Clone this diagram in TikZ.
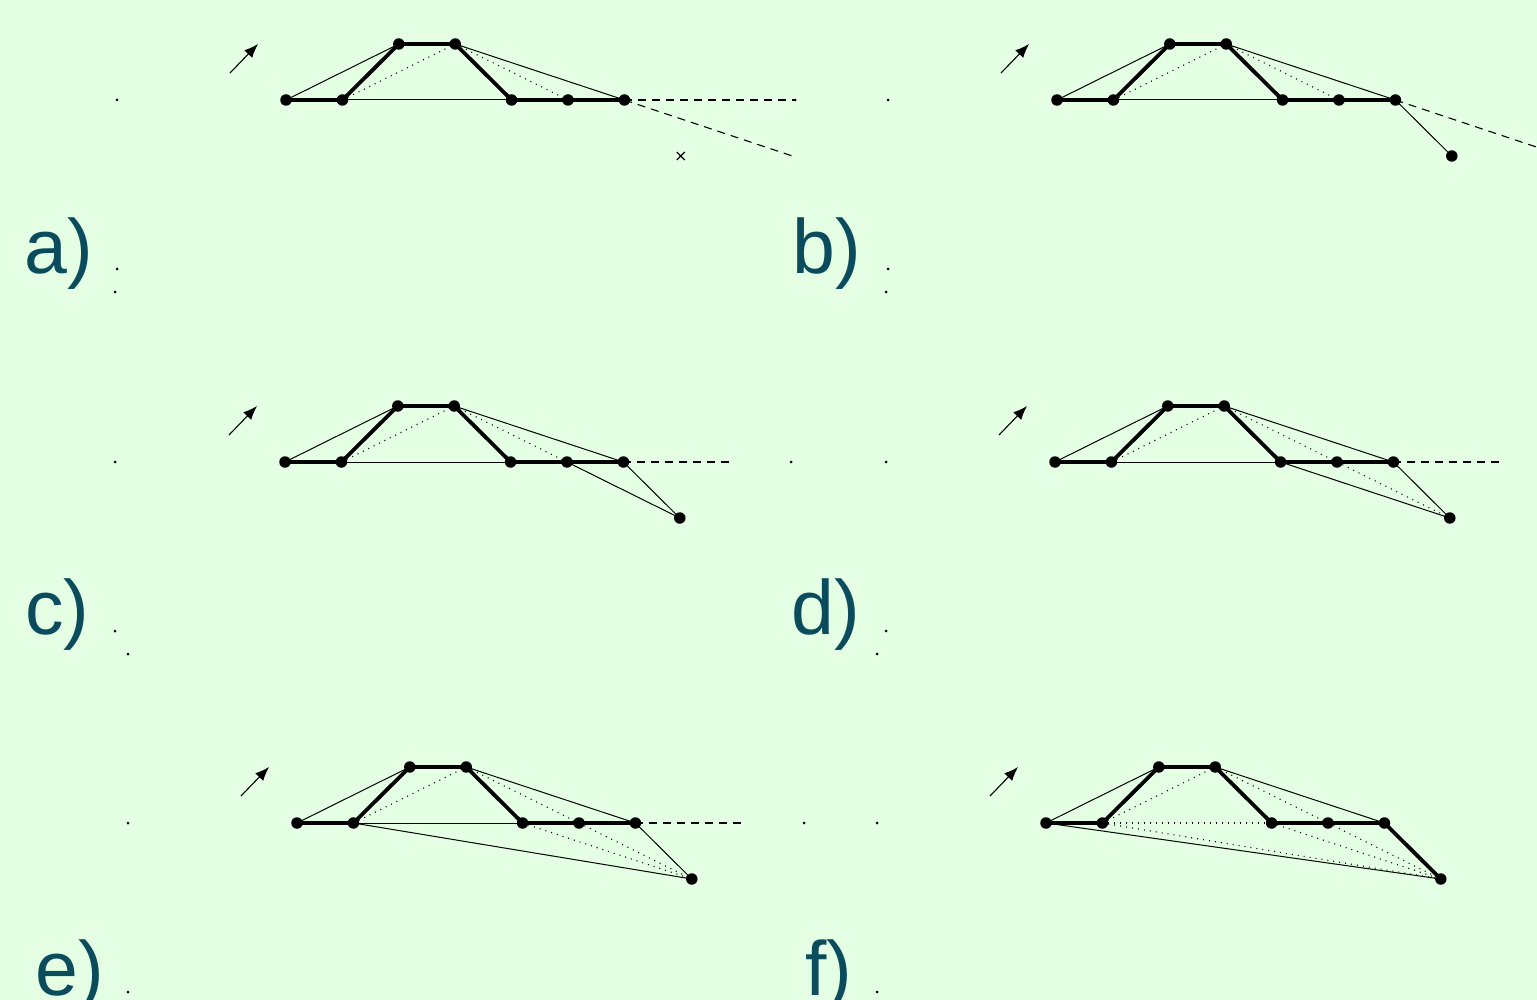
\documentclass[tikz,border=0pt]{standalone}
\usepackage{fontspec}
\setmainfont{Liberation Sans}
\usetikzlibrary{arrows.meta}
\definecolor{bg}{RGB}{229,255,229}
\definecolor{lab}{RGB}{10,75,92}
\tikzset{
 thickseg/.style={line width=3.8pt, line cap=round, line join=round},
 thinseg/.style={line width=1pt},
 dotseg/.style={line width=1.1pt, dash pattern=on 1pt off 5pt},
 dashseg/.style={line width=1.1pt, dash pattern=on 8pt off 6pt},
 vtx/.style={circle, fill=black, inner sep=0pt, minimum size=11.5pt},
 tinydot/.style={circle, fill=black, inner sep=0pt, minimum size=3pt},
 lbl/.style={anchor=base west, inner sep=0pt, text=lab, font=\fontsize{77}{92}\selectfont},
 dirarrow/.style={line width=1.1pt, -{Latex[length=14pt,width=11pt]}},
}
\newcommand{\mkpanel}[3]{%
 \begin{scope}[shift={(#2,#3)}]
 \coordinate (#1-1) at (0,0);
 \coordinate (#1-2) at (56.4,0);
 \coordinate (#1-3) at (112.8,-56);
 \coordinate (#1-4) at (169.2,-56);
 \coordinate (#1-5) at (225.6,0);
 \coordinate (#1-6) at (282,0);
 \coordinate (#1-7) at (338.4,0);
 \coordinate (#1-Q) at (394.8,56);
 \coordinate (#1-at) at (-56,-27);
 \coordinate (#1-ah) at (-28,-56);
 \end{scope}}
\newcommand{\thickpath}[1]{\draw[thickseg] (#1-1) -- (#1-2) -- (#1-3) -- (#1-4) -- (#1-5) -- (#1-6) -- (#1-7);}
\newcommand{\vertices}[1]{\foreach \k in {1,...,7} {\node[vtx] (#1-v\k) at (#1-\k) {};}}
\begin{document}
\begin{tikzpicture}[x=1pt,y=-1pt]
\fill[bg] (0,0) rectangle (1537,1000);
\useasboundingbox (0,0) rectangle (1537,1000);
\clip (0,0) rectangle (1537,1000);

% ---------------- panel a
\mkpanel{a}{286}{100}
\coordinate (a-e1) at (795,100);
\coordinate (a-e2) at (793.6,156.4);
\draw[thinseg] (a-1) -- (a-3);
\draw[thinseg] (a-4) -- (a-7);
\draw[thinseg] (a-2) -- (a-5);
\draw[dotseg] (a-2) -- (a-4);
\draw[dotseg] (a-4) -- (a-6);
\draw[dashseg] (a-7) -- (a-e1);
\draw[dashseg] (a-7) -- (a-e2);
\thickpath{a}
\vertices{a}
\node[tinydot] (a-d1) at (a-e1) {};
\node[tinydot] (a-d2) at (117,100) {};
\node[tinydot] (a-d3) at (117,269) {};
\node[tinydot] (a-d4) at (115,292) {};
\draw[line width=1.2pt] (a-Q) +(-4,-4) -- +(4,4) +(-4,4) -- +(4,-4);
\draw[dirarrow] (a-at) -- (a-ah);
\node[lbl] (a-lab) at (24,274) {a)};

% ---------------- panel b
\mkpanel{b}{1057}{100}
\coordinate (b-e2) at (1537,147.2);
\draw[thinseg] (b-1) -- (b-3);
\draw[thinseg] (b-4) -- (b-7);
\draw[thinseg] (b-2) -- (b-5);
\draw[thinseg] (b-7) -- (b-Q);
\draw[dotseg] (b-2) -- (b-4);
\draw[dotseg] (b-4) -- (b-6);
\draw[dashseg] (b-7) -- (b-e2);
\thickpath{b}
\vertices{b}
\node[vtx] (b-vQ) at (b-Q) {};
\node[tinydot] (b-d1) at (888,100) {};
\node[tinydot] (b-d2) at (888,269) {};
\node[tinydot] (b-d3) at (886,292) {};
\draw[dirarrow] (b-at) -- (b-ah);
\node[lbl] (b-lab) at (792,274) {b)};

% ---------------- panel c
\mkpanel{c}{285}{462}
\coordinate (c-e1) at (730,462);
\draw[thinseg] (c-1) -- (c-3);
\draw[thinseg] (c-4) -- (c-7);
\draw[thinseg] (c-2) -- (c-5);
\draw[thinseg] (c-7) -- (c-Q);
\draw[thinseg] (c-6) -- (c-Q);
\draw[dotseg] (c-2) -- (c-4);
\draw[dotseg] (c-4) -- (c-6);
\draw[dashseg] (c-7) -- (c-e1);
\thickpath{c}
\vertices{c}
\node[vtx] (c-vQ) at (c-Q) {};
\node[tinydot] (c-d1) at (115,462) {};
\node[tinydot] (c-d2) at (115,631) {};
\node[tinydot] (c-d3) at (128,654) {};
\draw[dirarrow] (c-at) -- (c-ah);
\node[lbl] (c-lab) at (25,634) {c)};

% ---------------- panel d
\mkpanel{d}{1055}{462}
\coordinate (d-e1) at (1500,462);
\draw[thinseg] (d-1) -- (d-3);
\draw[thinseg] (d-4) -- (d-7);
\draw[thinseg] (d-2) -- (d-5);
\draw[thinseg] (d-7) -- (d-Q);
\draw[thinseg] (d-5) -- (d-Q);
\draw[dotseg] (d-2) -- (d-4);
\draw[dotseg] (d-4) -- (d-Q);
\draw[dashseg] (d-7) -- (d-e1);
\thickpath{d}
\vertices{d}
\node[vtx] (d-vQ) at (d-Q) {};
\node[tinydot] (d-d1) at (791,462) {};
\node[tinydot] (d-d2) at (886,462) {};
\node[tinydot] (d-d3) at (886,631) {};
\node[tinydot] (d-d4) at (877,654) {};
\draw[dirarrow] (d-at) -- (d-ah);
\node[lbl] (d-lab) at (791,634) {d)};

% ---------------- panel e
\mkpanel{e}{297}{823}
\coordinate (e-e1) at (742,823);
\draw[thinseg] (e-1) -- (e-3);
\draw[thinseg] (e-4) -- (e-7);
\draw[thinseg] (e-2) -- (e-5);
\draw[thinseg] (e-7) -- (e-Q);
\draw[thinseg] (e-2) -- (e-Q);
\draw[dotseg] (e-2) -- (e-4);
\draw[dotseg] (e-4) -- (e-Q);
\draw[dotseg] (e-5) -- (e-Q);
\draw[dashseg] (e-7) -- (e-e1);
\thickpath{e}
\vertices{e}
\node[vtx] (e-vQ) at (e-Q) {};
\node[tinydot] (e-d1) at (128,823) {};
\node[tinydot] (e-d2) at (128,992) {};
\draw[dirarrow] (e-at) -- (e-ah);
\node[lbl] (e-lab) at (35,995) {e)};

% ---------------- panel f
\mkpanel{f}{1046}{823}
\draw[thinseg] (f-1) -- (f-3);
\draw[thinseg] (f-4) -- (f-7);
\draw[thinseg] (f-1) -- (f-Q);
\draw[dotseg] (f-2) -- (f-4);
\draw[dotseg] (f-4) -- (f-Q);
\draw[dotseg] (f-5) -- (f-Q);
\draw[dotseg] (f-2) -- (f-Q);
\draw[dotseg] (f-2) -- (f-5);
\draw[thickseg] (f-1) -- (f-2) -- (f-3) -- (f-4) -- (f-5) -- (f-6) -- (f-7) -- (f-Q);
\vertices{f}
\node[vtx] (f-vQ) at (f-Q) {};
\node[tinydot] (f-d1) at (804,823) {};
\node[tinydot] (f-d2) at (877,823) {};
\node[tinydot] (f-d3) at (877,992) {};
\draw[dirarrow] (f-at) -- (f-ah);
\node[lbl] (f-lab) at (805,995) {f)};
\end{tikzpicture}
\end{document}
